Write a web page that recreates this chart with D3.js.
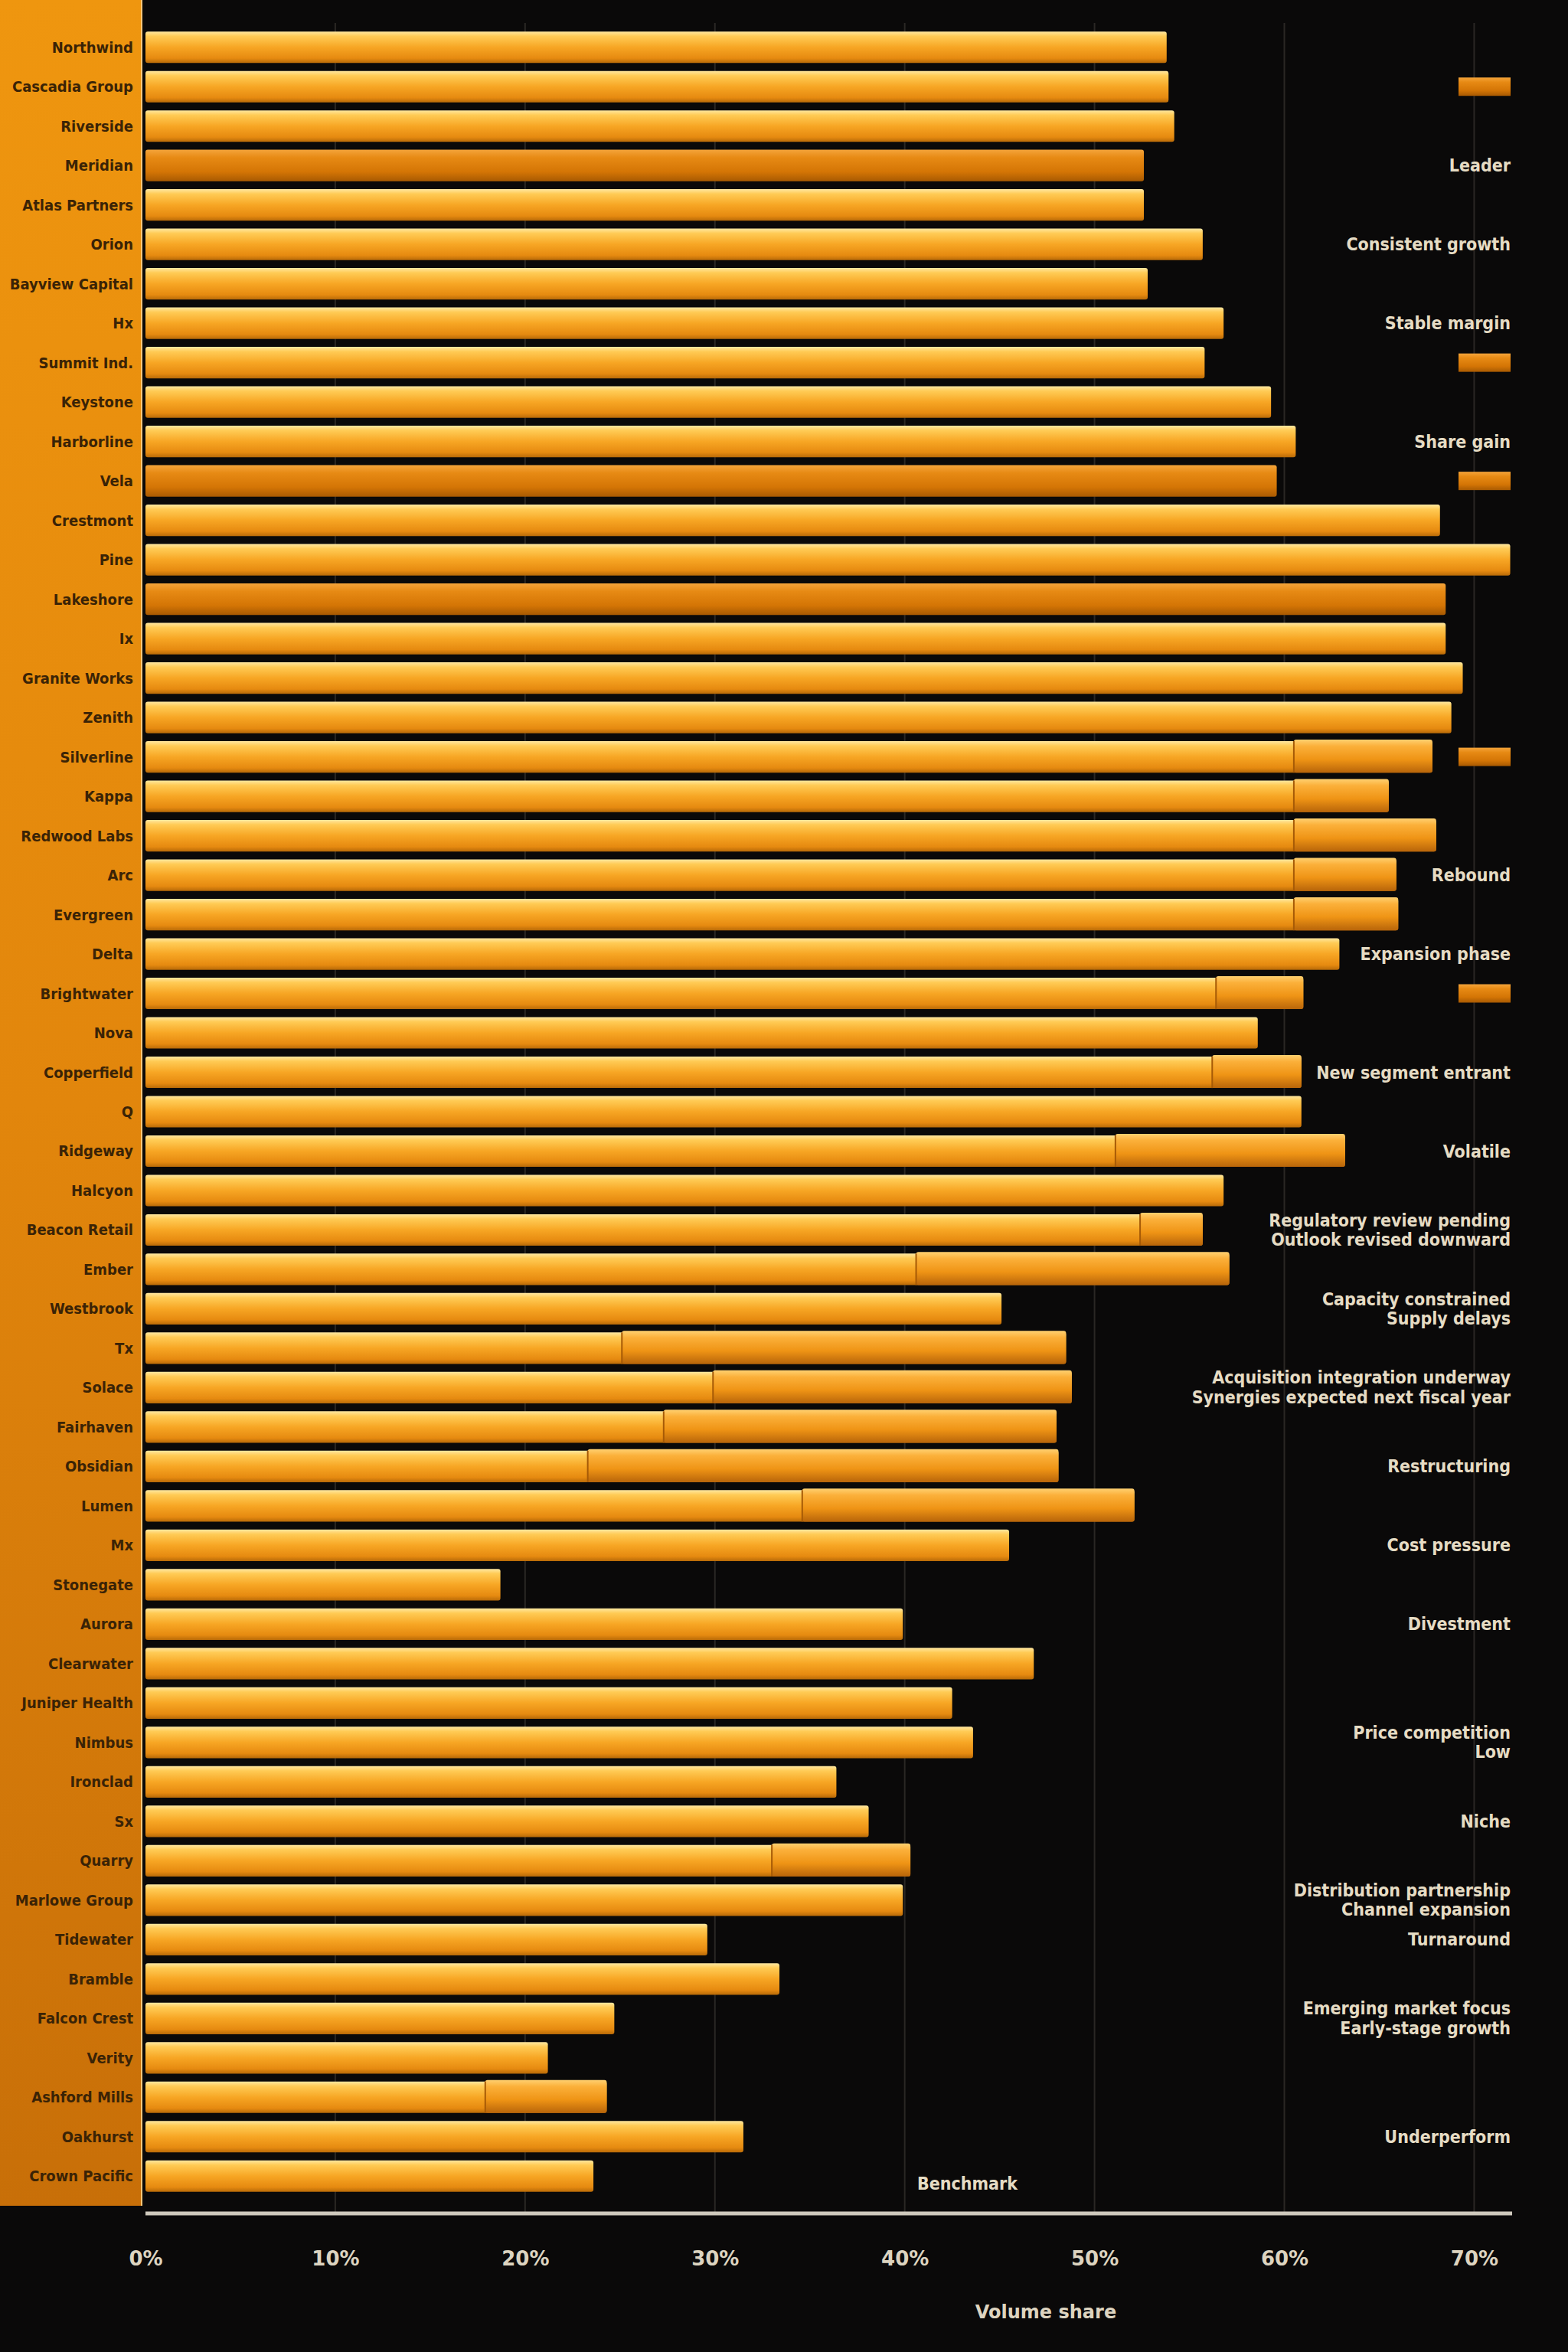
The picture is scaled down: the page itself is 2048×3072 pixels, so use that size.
<html>
  <head>
    <meta charset="utf-8">
    <title>Share by company</title>
    <script type="text/javascript" src="https://cdn.jsdelivr.net/npm/d3@7"></script>
    <style type="text/css">
html, body {
  margin: 0;
  padding: 0;
  background-color: #0a0909;
}
.cat-label {
  font-family: "DejaVu Sans Condensed", "DejaVu Sans", sans-serif;
  font-weight: bold;
  font-size: 20px;
  fill: #3a2306;
}
.note {
  font-family: "DejaVu Sans Condensed", "DejaVu Sans", sans-serif;
  font-weight: bold;
  font-size: 23px;
  fill: #e6dcc4;
}
.tick-label {
  font-family: "DejaVu Sans", sans-serif;
  font-weight: bold;
  font-size: 26px;
  fill: #ddd4c0;
}
.axis-title {
  font-family: "DejaVu Sans", sans-serif;
  font-weight: bold;
  font-size: 24px;
  fill: #ddd4c0;
}
    </style>
    <script type="text/javascript">
      // Data
      var categories = [
        "Northwind", "Cascadia Group", "Riverside", "Meridian", "Atlas Partners",
        "Orion", "Bayview Capital", "Hx", "Summit Ind.", "Keystone",
        "Harborline", "Vela", "Crestmont", "Pine", "Lakeshore",
        "Ix", "Granite Works", "Zenith", "Silverline", "Kappa",
        "Redwood Labs", "Arc", "Evergreen", "Delta", "Brightwater",
        "Nova", "Copperfield", "Q", "Ridgeway", "Halcyon",
        "Beacon Retail", "Ember", "Westbrook", "Tx", "Solace",
        "Fairhaven", "Obsidian", "Lumen", "Mx", "Stonegate",
        "Aurora", "Clearwater", "Juniper Health", "Nimbus", "Ironclad",
        "Sx", "Quarry", "Marlowe Group", "Tidewater", "Bramble",
        "Falcon Crest", "Verity", "Ashford Mills", "Oakhurst", "Crown Pacific"
      ];
      // total share (%)
      var totalValues = [
        53.8, 53.9, 54.2, 52.6, 52.6, 55.7, 52.8, 56.8, 55.8, 59.3,
        60.6, 59.6, 68.2, 71.9, 68.5, 68.5, 69.4, 68.8, 67.8, 65.5,
        68.0, 65.9, 66.0, 62.9, 61.0, 58.6, 60.9, 60.9, 63.2, 56.8,
        55.7, 57.1, 45.1, 48.5, 48.8, 48.0, 48.1, 52.1, 45.5, 18.7,
        39.9, 46.8, 42.5, 43.6, 36.4, 38.1, 40.3, 39.9, 29.6, 33.4,
        24.7, 21.2, 24.3, 31.5, 23.6
      ];
      // core share, where the bar has a second segment (null = single segment)
      var coreValues = [
        null, null, null, null, null, null, null, null, null, null,
        null, null, null, null, null, null, null, null, 60.5, 60.5,
        60.5, 60.5, 60.5, null, 56.4, null, 56.2, null, 51.1, null,
        52.4, 40.6, null, 25.1, 29.9, 27.3, 23.3, 34.6, null, null,
        null, null, null, null, null, null, 33.0, null, null, null,
        null, null, 17.9, null, null
      ];
      var statusValues = categories.map(function(d, i) {
        return (i == 3 || i == 11 || i == 14) ? "estimate" : "reported";
      });
      var xTicks = [0, 10, 20, 30, 40, 50, 60, 70];
      var tickLabels = ["0%", "10%", "20%", "30%", "40%", "50%", "60%", "70%"];
      var notes = [
        { row: 3, lines: ["Leader"] },
        { row: 5, lines: ["Consistent growth"] },
        { row: 7, lines: ["Stable margin"] },
        { row: 10, lines: ["Share gain"] },
        { row: 21, lines: ["Rebound"] },
        { row: 23, lines: ["Expansion phase"] },
        { row: 26, lines: ["New segment entrant"] },
        { row: 28, lines: ["Volatile"] },
        { row: 30, lines: ["Regulatory review pending", "Outlook revised downward"] },
        { row: 32, lines: ["Capacity constrained", "Supply delays"] },
        { row: 34, lines: ["Acquisition integration underway", "Synergies expected next fiscal year"] },
        { row: 36, lines: ["Restructuring"] },
        { row: 38, lines: ["Cost pressure"] },
        { row: 40, lines: ["Divestment"] },
        { row: 43, lines: ["Price competition", "Low"] },
        { row: 45, lines: ["Niche"] },
        { row: 47, lines: ["Distribution partnership", "Channel expansion"] },
        { row: 48, lines: ["Turnaround"] },
        { row: 50, lines: ["Emerging market focus", "Early-stage growth"] },
        { row: 53, lines: ["Underperform"] }
      ];
      var markerRows = [1, 8, 11, 18, 24];
      var benchmarkValue = 43.3;
      var axisTitle = "Volume share";

      function setUp() {
        var w = 2048, h = 3072;
        var panelW = 184, axisY = 2891;

        var svg = d3.select("#chart").append("svg")
             .attr("width", w)
             .attr("height", h);

        svg.append("rect").attr("width", w).attr("height", h).attr("fill", "#0a0909");

        var defs = svg.append("defs");
        function grad(id, stops, horiz) {
          var g = defs.append("linearGradient").attr("id", id)
               .attr("x1", 0).attr("y1", 0)
               .attr("x2", horiz ? 1 : 0).attr("y2", horiz ? 0 : 1);
          stops.forEach(function(s) {
            g.append("stop").attr("offset", s[0]).attr("stop-color", s[1]);
          });
        }
        grad("barReported", [["0%", "#ffe7a0"], ["15%", "#ffcb55"], ["50%", "#f7a624"], ["85%", "#e68a10"], ["100%", "#b86a08"]]);
        grad("barEstimate", [["0%", "#f4a43a"], ["25%", "#e78a14"], ["70%", "#d47505"], ["100%", "#a85a02"]]);
        grad("barExtra", [["0%", "#ffd070"], ["20%", "#fbb03a"], ["60%", "#ef9415"], ["100%", "#b8650a"]]);
        grad("panel", [["0%", "#ef960f"], ["50%", "#e2860c"], ["100%", "#c86f08"]]);

        var x = d3.scaleLinear().domain([0, 72]).range([190, 1975]);
        var y = d3.scaleBand().domain(categories).range([36, 2868])
             .paddingInner(0.2).paddingOuter(0.1);
        var color = d3.scaleOrdinal().domain(["reported", "estimate"])
             .range(["url(#barReported)", "url(#barEstimate)"]);

        // left label panel
        svg.append("rect").attr("x", 0).attr("y", 0)
             .attr("width", panelW).attr("height", 2881)
             .attr("fill", "url(#panel)");
        svg.append("line").attr("x1", panelW + 1).attr("x2", panelW + 1)
             .attr("y1", 0).attr("y2", 2881)
             .attr("stroke", "#f6c77a").attr("stroke-width", 2);

        // grid
        svg.append("g").selectAll("line")
             .data(xTicks.slice(1))
             .enter().append("line")
             .attr("x1", function(d) { return x(d); })
             .attr("x2", function(d) { return x(d); })
             .attr("y1", 30).attr("y2", axisY)
             .attr("stroke", "#2a2724").attr("stroke-width", 2);

        var rows = categories.map(function(c, i) {
          return { cat: c, total: totalValues[i], core: coreValues[i], status: statusValues[i] };
        });

        var g = svg.selectAll(".row")
             .data(rows)
             .enter().append("g")
             .attr("class", "row")
             .attr("transform", function(d) { return "translate(0," + y(d.cat) + ")"; });

        g.append("rect")
             .attr("class", "bar")
             .attr("x", x(0))
             .attr("width", function(d) { return x(d.total) - x(0); })
             .attr("height", y.bandwidth())
             .attr("rx", 3)
             .attr("fill", function(d) { return color(d.status); });

        var split = g.filter(function(d) { return d.core != null; });
        split.append("rect")
             .attr("x", function(d) { return x(d.core); })
             .attr("y", -2)
             .attr("width", function(d) { return x(d.total) - x(d.core); })
             .attr("height", y.bandwidth() + 2)
             .attr("rx", 3)
             .attr("fill", "url(#barExtra)");
        split.append("line")
             .attr("x1", function(d) { return x(d.core); })
             .attr("x2", function(d) { return x(d.core); })
             .attr("y1", 0).attr("y2", y.bandwidth())
             .attr("stroke", "#a65a06").attr("stroke-width", 2);

        g.append("text")
             .attr("class", "cat-label")
             .attr("x", panelW - 10)
             .attr("y", y.bandwidth() / 2)
             .attr("dy", "0.35em")
             .attr("text-anchor", "end")
             .text(function(d) { return d.cat; });

        // right-hand notes
        var n = svg.selectAll(".note")
             .data(notes)
             .enter().append("text")
             .attr("class", "note")
             .attr("text-anchor", "end")
             .attr("transform", function(d) {
               var cy = y(categories[d.row]) + y.bandwidth() / 2 - (d.lines.length - 1) * 13;
               return "translate(1973," + cy + ")";
             });
        n.selectAll("tspan")
             .data(function(d) { return d.lines; })
             .enter().append("tspan")
             .attr("x", 0)
             .attr("dy", function(d, i) { return i == 0 ? "0.35em" : "1.1em"; })
             .text(function(d) { return d; });

        svg.selectAll(".marker")
             .data(markerRows)
             .enter().append("rect")
             .attr("class", "marker")
             .attr("x", 1905).attr("width", 68)
             .attr("y", function(d) { return y(categories[d]) + y.bandwidth() / 2 - 12; })
             .attr("height", 24)
             .attr("fill", "url(#barEstimate)");

        // axis
        var axis = svg.append("g")
             .attr("transform", "translate(0," + axisY + ")")
             .call(d3.axisBottom(x).tickValues(xTicks).tickSize(0)
                   .tickFormat(function(d, i) { return tickLabels[i]; }));
        axis.select(".domain").attr("stroke", "#cfc9bd").attr("stroke-width", 5)
             .attr("d", "M" + x(0) + ",0H" + x(72));
        axis.selectAll(".tick text")
             .attr("class", "tick-label")
             .attr("dy", 0)
             .attr("y", 68);

        svg.append("text")
             .attr("class", "note")
             .attr("x", x(benchmarkValue))
             .attr("y", 2860)
             .attr("text-anchor", "middle")
             .text("Benchmark");

        svg.append("text")
             .attr("class", "axis-title")
             .attr("x", 1366)
             .attr("y", 3028)
             .attr("text-anchor", "middle")
             .text(axisTitle);
      }
    </script>
  </head>
  <body onload="setUp();">
    <div id="chart">
    </div>
  </body>
</html>
